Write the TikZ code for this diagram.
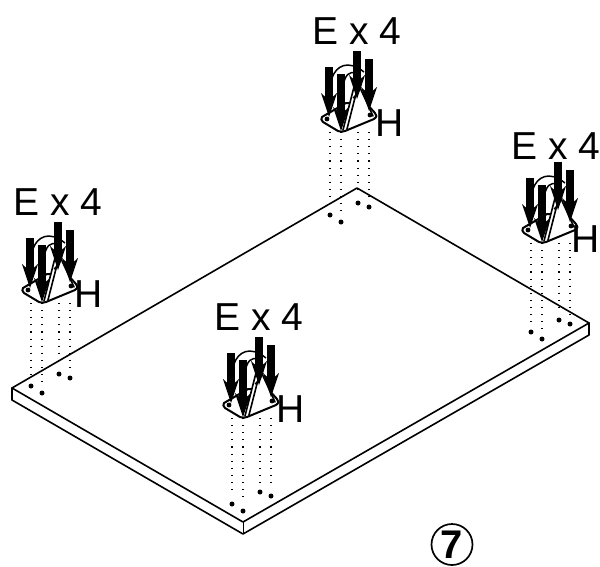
\documentclass[tikz,border=0pt]{standalone}
\usepackage{fontspec}
\setmainfont{Liberation Sans}
\tikzset{
 edge/.style={line width=1.6pt,line join=round,line cap=round},
 thin edge/.style={line width=1.5pt,line join=round},
 label text/.style={font=\fontsize{39}{39}\selectfont,inner sep=0pt,text=black},
 drop/.style={line width=1.1pt,dash pattern=on 1.1pt off 6pt},
 hole/.style={fill=black,draw=none},
 pics/fitting/.style={code={
   % plate
   \draw[line width=2pt,line join=round,fill=white] (-14,1) -- (10,-13) -- (30,-13) -- (39,-3) .. controls (41,-1) and (41,1) .. (38,3) -- (9,15) .. controls (7,16) and (4,16) .. (2,15) -- (-13,6) .. controls (-15,5) and (-15,2) .. (-14,1) -- cycle;
   % gusset
   \draw[edge,fill=white] (7,14) -- (20,-37) -- (37,0);
   \draw[edge] (11,13) -- (22,-30);
   \draw[thin edge] (7,-27) .. controls (8,-42) and (14,-45) .. (20,-43) .. controls (28,-40) and (26,-24) .. (17,-18);
   \draw[thin edge] (-4,-38) .. controls (0,-50) and (12,-57) .. (28,-44);
   \fill (-9,3) circle (2.4pt);
   \fill (34,-1) circle (2.4pt);
   \foreach \ax/\ay/\ty in {-7/1/-49,5/15/-42,21/-17/-65,33/-5/-57}{
     \fill (\ax-3.6,\ty) rectangle (\ax+3.6,\ay-18);
     \fill (\ax,\ay) -- (\ax-8,\ay-24) -- (\ax-3.6,\ay-20) -- (\ax+3.6,\ay-20) -- (\ax+8,\ay-24) -- cycle;
   }
 }}
}
\begin{document}
\begin{tikzpicture}[x=1pt,y=-1pt]
\useasboundingbox (0,0) rectangle (600,566);
% board
\coordinate (L) at (12,388); \coordinate (B) at (357,188);
\coordinate (R) at (589,323); \coordinate (F) at (243,522);
\coordinate (L2) at (12,400); \coordinate (R2) at (589,335); \coordinate (F2) at (243,534);
\draw[edge,fill=white] (L) -- (B) -- (R) -- (F) -- cycle;
\draw[edge] (L) -- (L2) -- (F2) -- (R2) -- (R);
\draw[line width=1pt] (F) -- (F2);
% holes and dotted drop lines: top, left, front, right
\foreach \dx/\dy/\px/\py/\tx/\ty/\hx/\hy/\name in {
   0/0/336/116/357/31/390/123/t,
   -299/171/37/287/58/202/89/294/l,
   -98/289/238/402/259/317/291/409/f,
   201/117/537/227/556/146/586/239/r}{
  \foreach \offx/\offy/\endy in {330/215/9,341/222/9,358/203/9,369/207/9}{
    \fill[hole] (\offx+\dx,\offy+\dy) circle (2.5pt);
    \coordinate (s) at (\offx+\dx,\py+16);
    \coordinate (e) at (\offx+\dx,\offy+\dy-\endy);
    \draw[drop] (s) -- (e);
  }
  \pic at (\px,\py) {fitting};
  \node[label text] (ex\name) at (\tx,\ty) {E x 4};
  \node[label text] (h\name) at (\hx,\hy) {H};
}
% step number
\node[draw,circle,line width=1.7pt,minimum size=41pt,inner sep=0pt,font=\fontsize{40}{40}\selectfont\bfseries] (step7) at (452,544.5) {7};
\end{tikzpicture}
\end{document}
